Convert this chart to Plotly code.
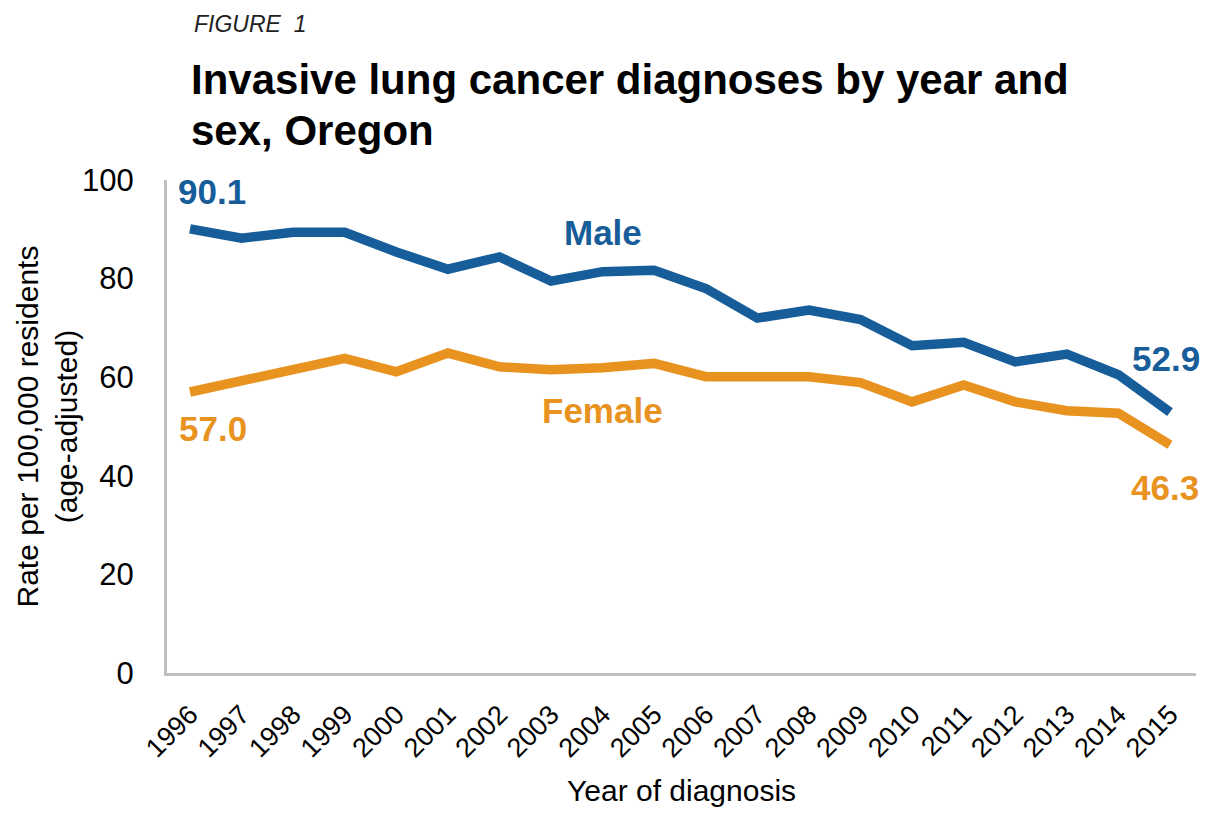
import plotly.graph_objects as go

years = list(range(1996, 2016))
male = [90.1, 88.2, 89.4, 89.4, 85.4, 81.9, 84.4, 79.5, 81.4, 81.7,
        78.0, 72.0, 73.6, 71.7, 66.4, 67.1, 63.1, 64.7, 60.5, 52.9]
female = [57.0, 59.4, 61.7, 63.8, 61.1, 64.9, 62.1, 61.5, 61.9, 62.8,
          60.1, 60.1, 60.1, 58.9, 55.0, 58.4, 55.0, 53.2, 52.7, 46.3]
tick_labels = [str(y) for y in years]

BLUE = "#175D9A"
ORANGE = "#E8921F"
FONT = "Liberation Sans, Arial, sans-serif"

# figure size compensates for the 8px default page margin
W, H = 1201, 807
L, R, T, B = 159, 13, 172, 142
PW, PH = W - L - R, H - T - B


def px(xp):
    return (xp - L) / PW


def py(yp):
    return (H - B - yp) / PH


fig = go.Figure()
fig.add_trace(go.Scatter(x=years, y=male, mode="lines", name="Male",
                         line=dict(color=BLUE, width=9.5), hoverinfo="x+y"))
fig.add_trace(go.Scatter(x=years, y=female, mode="lines", name="Female",
                         line=dict(color=ORANGE, width=9.5), hoverinfo="x+y"))

labels = [
    (years[0], male[0], f"<b>{male[0]:.1f}</b>", BLUE, 22, 37),
    (years[0], female[0], f"<b>{female[0]:.1f}</b>", ORANGE, 23, -37),
    (years[-1], male[-1], f"<b>{male[-1]:.1f}</b>", BLUE, -4, 54),
    (years[-1], female[-1], f"<b>{female[-1]:.1f}</b>", ORANGE, -5, -43),
    (2004, 89.4, "<b>Male</b>", BLUE, 0, 0),
    (2004, 53.3, "<b>Female</b>", ORANGE, 0, 0),
]
for x, y, txt, col, xs, ys in labels:
    fig.add_annotation(x=x, y=y, xref="x", yref="y", text=txt, showarrow=False,
                       xshift=xs, yshift=ys,
                       font=dict(family=FONT, size=35, color=col))

# header texts
fig.add_annotation(x=px(184), y=py(16), xref="paper", yref="paper",
                   text="<i>FIGURE  1</i>", showarrow=False,
                   xanchor="left", yanchor="middle",
                   font=dict(family=FONT, size=23, color="#222222"))
fig.add_annotation(x=px(181), y=py(72), xref="paper", yref="paper",
                   text="<b>Invasive lung cancer diagnoses by year and</b>",
                   showarrow=False, xanchor="left", yanchor="middle",
                   font=dict(family=FONT, size=42, color="black"))
fig.add_annotation(x=px(181), y=py(123), xref="paper", yref="paper",
                   text="<b>sex, Oregon</b>",
                   showarrow=False, xanchor="left", yanchor="middle",
                   font=dict(family=FONT, size=42, color="black"))

# axis titles
fig.add_annotation(x=px(38), y=0.5, xref="paper", yref="paper",
                   text="Rate per 100,000 residents<br>(age-adjusted)",
                   showarrow=False, textangle=-90, xanchor="center", yanchor="middle",
                   font=dict(family=FONT, size=30, color="black"))
fig.add_annotation(x=px(673), y=py(782), xref="paper", yref="paper",
                   text="Year of diagnosis", showarrow=False,
                   xanchor="center", yanchor="middle",
                   font=dict(family=FONT, size=30, color="black"))

fig.update_layout(
    width=W, height=H,
    margin=dict(l=L, r=R, t=T, b=B, autoexpand=False),
    plot_bgcolor="white", paper_bgcolor="white",
    showlegend=False,
    xaxis=dict(range=[1995.554, 2015.504], tickmode="array", tickvals=years,
               ticktext=tick_labels, tickangle=-45, showgrid=False, zeroline=False,
               showline=True, linecolor="#BFBFBF", linewidth=3, ticks="",
               ticklabelstandoff=12, automargin=False,
               tickfont=dict(family=FONT, size=27, color="black")),
    yaxis=dict(range=[0, 100], tickvals=[0, 20, 40, 60, 80, 100], showgrid=False,
               zeroline=False, showline=True, linecolor="#BFBFBF", linewidth=3,
               ticks="", ticklabelstandoff=24, automargin=False,
               tickfont=dict(family=FONT, size=31, color="black")),
)

fig.write_html("out.html")
